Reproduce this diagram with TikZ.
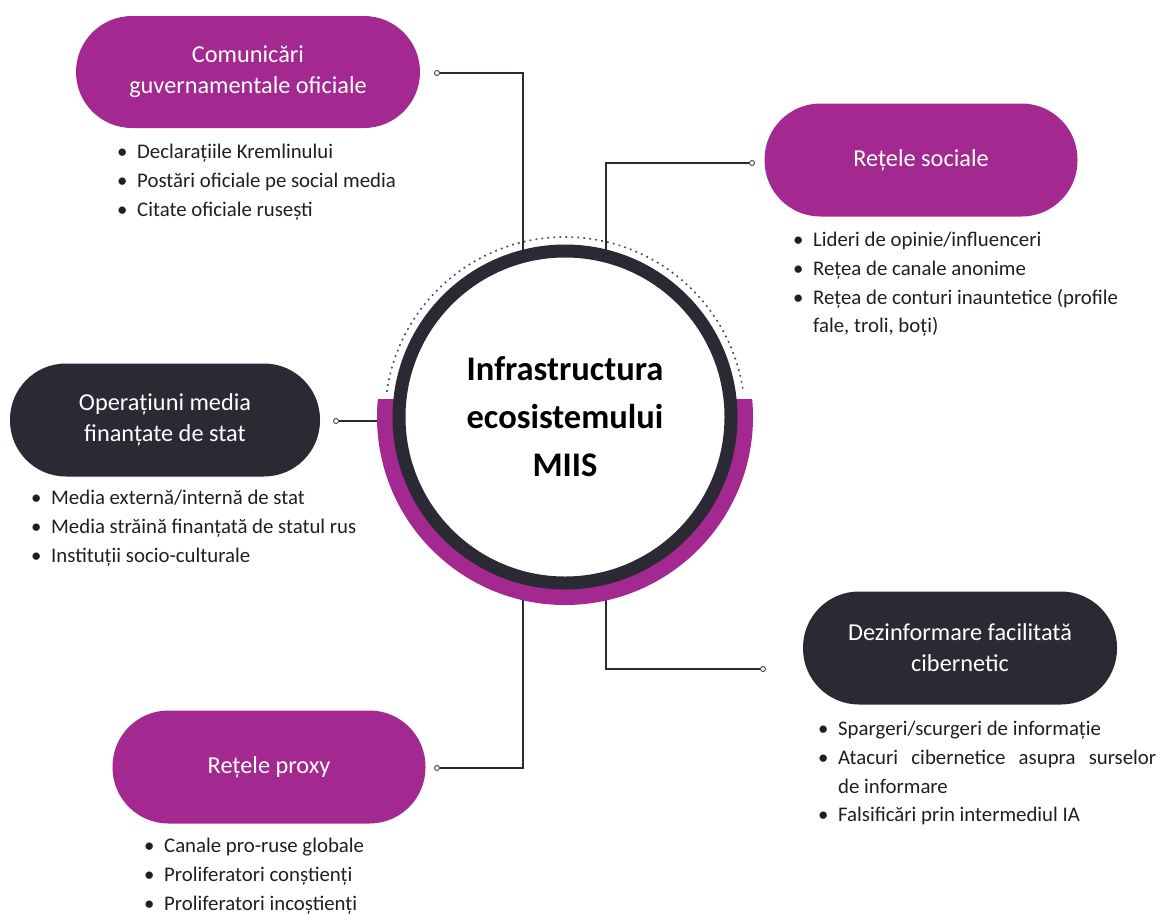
\documentclass[tikz,border=0pt]{standalone}
\usepackage{fontspec}
\setmainfont{Carlito}
\definecolor{miispurple}{RGB}{163,40,144}
\definecolor{miisdark}{RGB}{43,42,52}
\newcommand{\bul}{\makebox[20pt][l]{\textbullet}}
\newcommand{\ind}{\hspace*{20pt}}
\tikzset{
  pill/.style={rectangle, rounded corners=56pt, minimum width=313pt, minimum height=113pt,
    text=white, align=center, font=\fontsize{24.3}{31}\selectfont},
  bullets/.style={anchor=north west, inner sep=0pt, align=left,
    font=\fontsize{20.8}{28.7}\selectfont, text=black!88},
  enddot/.style={circle, draw=miisdark, line width=0.8pt, fill=white, inner sep=0pt, minimum size=5pt},
  link/.style={draw=miisdark, line width=1.2pt}
}
\begin{document}
\begin{tikzpicture}[x=1pt,y=-1pt]
    \useasboundingbox (0,0) rectangle (1158,913);
    \coordinate (hubc) at (565,417);
    % dotted arc over the top
    \draw[dash pattern=on 1.8pt off 4.2pt, line width=1.6pt, miisdark!85] (hubc) ++(172:180pt) arc[start angle=172, end angle=8, radius=180pt];
    % end dots and connectors
    \node[enddot] (comdot) at (437,73) {};
    \node[enddot] (socdot) at (752,163) {};
    \node[enddot] (opsdot) at (336,421) {};
    \node[enddot] (cybdot) at (763,669) {};
    \node[enddot] (prxdot) at (437,768) {};
    \coordinate (comend) at (523,417);
    \coordinate (socend) at (606,417);
    \coordinate (opsend) at (500,421);
    \coordinate (cybend) at (606,417);
    \coordinate (prxend) at (523,417);
    \draw[link] (comdot) -| (comend);
    \draw[link] (socdot) -| (socend);
    \draw[link] (opsdot) -- (opsend);
    \draw[link] (cybdot) -| (cybend);
    \draw[link] (prxdot) -| (prxend);
    % purple lower half ring
    \begin{scope}
        \clip (360,399) rectangle (770,620);
        \fill[miispurple] (hubc) circle[radius=188pt];
    \end{scope}
    \node[circle, draw=miisdark, line width=13pt, fill=white, minimum size=332pt, align=center,
        font=\fontsize{34.5}{48}\selectfont\bfseries] (hub) at (hubc) {Infrastructura\\ecosistemului\\MIIS};
    % categories
    \node[pill, fill=miispurple, minimum width=344pt, minimum height=112pt] (com) at (248,72) {Comunicări\\guvernamentale oficiale};
    \node[pill, fill=miispurple] (soc) at (921,160) {Rețele sociale};
    \node[pill, fill=miisdark, minimum width=310pt] (ops) at (165,420) {Operațiuni media\\finanțate de stat};
    \node[pill, fill=miisdark, minimum width=314pt] (cyb) at (960,648) {Dezinformare facilitată\\cibernetic};
    \node[pill, fill=miispurple] (prx) at (269,767) {Rețele proxy};
    % bullet lists
    \node[bullets] (comlist) at (117,144) {\bul Declarațiile Kremlinului\\\bul Postări oficiale pe social media\\\bul Citate oficiale rusești};
    \node[bullets] (soclist) at (793,232) {\bul Lideri de opinie/influenceri\\\bul Rețea de canale anonime\\\bul Rețea de conturi inauntetice (profile\\\ind fale, troli, boți)};
    \node[bullets] (opslist) at (31,490) {\bul Media externă/internă de stat\\\bul Media străină finanțată de statul rus\\\bul Instituții socio-culturale};
    \node[bullets] (cyblist) at (818,721) {\bul Spargeri/scurgeri de informație\\\bul \makebox[318pt][s]{Atacuri cibernetice asupra surselor}\\\ind de informare\\\bul Falsificări prin intermediul IA};
    \node[bullets] (prxlist) at (144,838) {\bul Canale pro-ruse globale\\\bul Proliferatori conștienți\\\bul Proliferatori incoștienți};
\end{tikzpicture}
\end{document}
